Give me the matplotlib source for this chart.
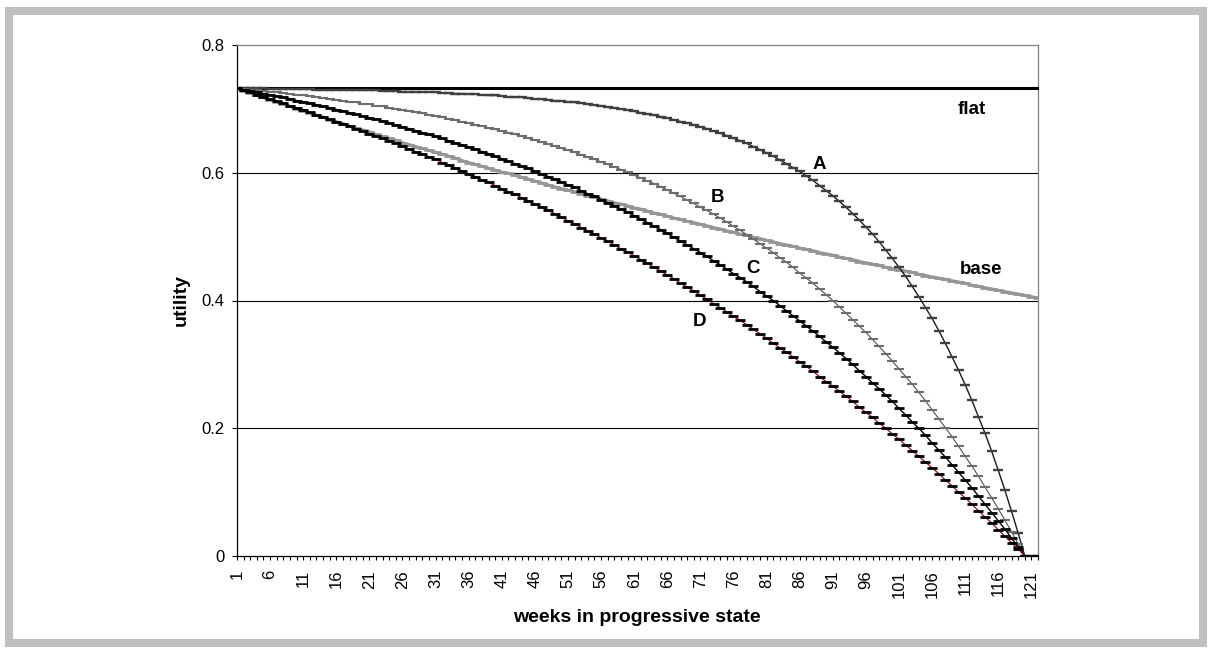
import matplotlib
matplotlib.use("Agg")
import matplotlib.pyplot as plt
from matplotlib.patches import Rectangle

plt.rcParams["font.family"] = ["Liberation Sans", "DejaVu Sans"]

# weeks 1..122
weeks = list(range(1, 123))

flat = [0.732] * 122

base = [0.732, 0.728, 0.725, 0.721, 0.718, 0.714, 0.711, 0.707, 0.704, 0.700, 0.697, 0.694, 0.690, 0.687, 0.683, 0.680, 0.677, 0.673, 0.670, 0.667, 0.664, 0.660, 0.657, 0.654, 0.651,
        0.647, 0.644, 0.641, 0.638, 0.635, 0.632, 0.629, 0.626, 0.623, 0.619, 0.616, 0.613, 0.610, 0.607, 0.604, 0.601, 0.599, 0.596, 0.593, 0.590, 0.587, 0.584, 0.581, 0.578, 0.575,
        0.573, 0.570, 0.567, 0.564, 0.562, 0.559, 0.556, 0.553, 0.551, 0.548, 0.545, 0.543, 0.540, 0.537, 0.535, 0.532, 0.529, 0.527, 0.524, 0.522, 0.519, 0.517, 0.514, 0.512, 0.509,
        0.507, 0.504, 0.502, 0.499, 0.497, 0.494, 0.492, 0.489, 0.487, 0.485, 0.482, 0.480, 0.478, 0.475, 0.473, 0.471, 0.468, 0.466, 0.464, 0.461, 0.459, 0.457, 0.455, 0.452, 0.450,
        0.448, 0.446, 0.444, 0.441, 0.439, 0.437, 0.435, 0.433, 0.431, 0.429, 0.427, 0.424, 0.422, 0.420, 0.418, 0.416, 0.414, 0.412, 0.410, 0.408, 0.406, 0.404]

curve_a = [0.732, 0.732, 0.732, 0.732, 0.732, 0.731, 0.731, 0.731, 0.731, 0.731, 0.731, 0.731, 0.730, 0.730, 0.730, 0.730, 0.730, 0.730, 0.729, 0.729, 0.729, 0.729, 0.728, 0.728, 0.728,
           0.727, 0.727, 0.727, 0.726, 0.726, 0.726, 0.725, 0.725, 0.724, 0.724, 0.723, 0.723, 0.722, 0.721, 0.721, 0.720, 0.719, 0.719, 0.718, 0.717, 0.716, 0.715, 0.714, 0.713, 0.712,
           0.711, 0.710, 0.709, 0.707, 0.706, 0.705, 0.703, 0.702, 0.700, 0.698, 0.696, 0.694, 0.692, 0.690, 0.688, 0.686, 0.683, 0.680, 0.678, 0.675, 0.672, 0.669, 0.665, 0.662, 0.658,
           0.654, 0.650, 0.646, 0.641, 0.636, 0.631, 0.626, 0.620, 0.614, 0.608, 0.602, 0.595, 0.588, 0.580, 0.572, 0.564, 0.555, 0.546, 0.536, 0.526, 0.515, 0.504, 0.492, 0.479, 0.466,
           0.452, 0.438, 0.422, 0.406, 0.389, 0.372, 0.353, 0.333, 0.312, 0.291, 0.268, 0.244, 0.218, 0.192, 0.164, 0.134, 0.103, 0.070, 0.036, 0.000, 0.000, 0.000]

curve_b = [0.732, 0.731, 0.730, 0.729, 0.728, 0.727, 0.726, 0.725, 0.723, 0.722, 0.721, 0.720, 0.718, 0.717, 0.716, 0.714, 0.713, 0.711, 0.710, 0.708, 0.707, 0.705, 0.704, 0.702, 0.700,
           0.698, 0.696, 0.695, 0.693, 0.691, 0.689, 0.687, 0.684, 0.682, 0.680, 0.678, 0.675, 0.673, 0.670, 0.668, 0.665, 0.663, 0.660, 0.657, 0.654, 0.651, 0.648, 0.645, 0.642, 0.638,
           0.635, 0.632, 0.628, 0.624, 0.621, 0.617, 0.613, 0.609, 0.605, 0.601, 0.596, 0.592, 0.587, 0.583, 0.578, 0.573, 0.568, 0.563, 0.557, 0.552, 0.546, 0.541, 0.535, 0.529, 0.523,
           0.516, 0.510, 0.503, 0.496, 0.489, 0.482, 0.475, 0.467, 0.460, 0.452, 0.443, 0.435, 0.427, 0.418, 0.409, 0.400, 0.390, 0.380, 0.370, 0.360, 0.350, 0.339, 0.328, 0.317, 0.305,
           0.293, 0.281, 0.269, 0.256, 0.243, 0.229, 0.215, 0.201, 0.187, 0.172, 0.156, 0.141, 0.125, 0.108, 0.091, 0.074, 0.056, 0.038, 0.019, 0.000, 0.000, 0.000]

curve_c = [0.732, 0.730, 0.728, 0.726, 0.724, 0.722, 0.720, 0.718, 0.716, 0.713, 0.711, 0.709, 0.706, 0.704, 0.702, 0.699, 0.697, 0.694, 0.692, 0.689, 0.686, 0.684, 0.681, 0.678, 0.675,
           0.672, 0.669, 0.666, 0.663, 0.660, 0.657, 0.654, 0.650, 0.647, 0.644, 0.640, 0.637, 0.633, 0.630, 0.626, 0.622, 0.618, 0.614, 0.611, 0.607, 0.602, 0.598, 0.594, 0.590, 0.586,
           0.581, 0.577, 0.572, 0.567, 0.563, 0.558, 0.553, 0.548, 0.543, 0.538, 0.533, 0.527, 0.522, 0.516, 0.511, 0.505, 0.499, 0.493, 0.487, 0.481, 0.475, 0.469, 0.462, 0.456, 0.449,
           0.442, 0.436, 0.429, 0.422, 0.414, 0.407, 0.400, 0.392, 0.384, 0.376, 0.368, 0.360, 0.352, 0.344, 0.335, 0.327, 0.318, 0.309, 0.300, 0.290, 0.281, 0.271, 0.262, 0.252, 0.242,
           0.231, 0.221, 0.210, 0.200, 0.189, 0.177, 0.166, 0.155, 0.143, 0.131, 0.119, 0.107, 0.094, 0.081, 0.068, 0.055, 0.042, 0.028, 0.014, 0.000, 0.000, 0.000]

curve_d = [0.732, 0.729, 0.726, 0.722, 0.719, 0.716, 0.712, 0.709, 0.705, 0.702, 0.699, 0.695, 0.691, 0.688, 0.684, 0.680, 0.677, 0.673, 0.669, 0.665, 0.661, 0.658, 0.654, 0.650, 0.646,
           0.642, 0.637, 0.633, 0.629, 0.625, 0.621, 0.616, 0.612, 0.607, 0.603, 0.598, 0.594, 0.589, 0.585, 0.580, 0.575, 0.570, 0.566, 0.561, 0.556, 0.551, 0.546, 0.541, 0.536, 0.530,
           0.525, 0.520, 0.514, 0.509, 0.504, 0.498, 0.493, 0.487, 0.481, 0.476, 0.470, 0.464, 0.458, 0.452, 0.446, 0.440, 0.434, 0.427, 0.421, 0.415, 0.408, 0.402, 0.395, 0.389, 0.382,
           0.375, 0.369, 0.362, 0.355, 0.348, 0.341, 0.333, 0.326, 0.319, 0.312, 0.304, 0.297, 0.289, 0.281, 0.273, 0.266, 0.258, 0.250, 0.242, 0.233, 0.225, 0.217, 0.208, 0.200, 0.191,
           0.183, 0.174, 0.165, 0.156, 0.147, 0.138, 0.129, 0.119, 0.110, 0.100, 0.091, 0.081, 0.071, 0.061, 0.052, 0.041, 0.031, 0.021, 0.011, 0.000, 0.000, 0.000]

y_ticks = [0, 0.2, 0.4, 0.6, 0.8]
y_labels = ["0", "0.2", "0.4", "0.6", "0.8"]
x_label_weeks = list(range(1, 123, 5))

W, H = 1212, 654


def fx(px):
    return px / W


def fy(py):
    return 1 - py / H


fig = plt.figure(figsize=(W / 100, H / 100), dpi=100)
fig.patches.append(Rectangle((fx(9), fy(643)), fx(1203) - fx(9), fy(11) - fy(643),
                             transform=fig.transFigure, fill=False,
                             edgecolor="#c0c0c0", linewidth=5.8))

ax = fig.add_axes([fx(237), fy(556), fx(1038) - fx(237), fy(45) - fy(556)])

for g in y_ticks[1:4]:
    ax.axhline(g, color="black", lw=0.8, zorder=1)

mk = dict(marker="_", markersize=6.5)
ax.plot(weeks, flat, color="black", lw=2.2, mec="black", mew=2, zorder=3, **mk)
ax.plot(weeks, base, color="#969696", lw=2.2, mec="#969696", mew=2, zorder=3, **mk)
ax.plot(weeks, curve_a, color="#1a1a1a", lw=1.0, mec="#404040", mew=1.7, zorder=4, **mk)
ax.plot(weeks, curve_b, color="#505050", lw=0.8, mec="#6e6e6e", mew=1.5, zorder=4, **mk)
ax.plot(weeks, curve_c, color="black", lw=1.0, mec="black", mew=2.0, zorder=4, **mk)
ax.plot(weeks, curve_d, color="#8b0000", lw=0.8, mec="black", mew=2.0, zorder=4, **mk)

ax.set_xlim(1, 122)
ax.set_ylim(0, 0.8)
for s in ["top", "right"]:
    ax.spines[s].set_color("#808080")
for s in ["left", "bottom"]:
    ax.spines[s].set_color("black")
for s in ax.spines.values():
    s.set_linewidth(0.9)

ax.set_yticks(y_ticks)
ax.set_yticklabels(y_labels)
ax.set_xticks(x_label_weeks)
ax.set_xticklabels([str(w) for w in x_label_weeks], rotation=90)
ax.set_xticks(weeks, minor=True)
ax.tick_params(axis="y", length=3.5, width=0.8, pad=5.5, labelsize=12)
ax.tick_params(axis="x", which="both", length=3, width=0.8, pad=7, labelsize=12)

fig.text(fx(181), fy(300), "utility", rotation=90, fontsize=14, fontweight="bold",
         ha="center", va="center")
fig.text(fx(637), fy(618), "weeks in progressive state", fontsize=14,
         fontweight="bold", ha="center", va="center")

labels = [("flat", 972, 110), ("A", 819, 165), ("B", 717, 198),
          ("C", 753, 268), ("D", 700, 322), ("base", 981, 269)]
for txt, px, py in labels:
    fig.text(fx(px), fy(py), txt, fontsize=13.5, fontweight="bold",
             ha="center", va="center")

fig.savefig("out.png", dpi=100)
